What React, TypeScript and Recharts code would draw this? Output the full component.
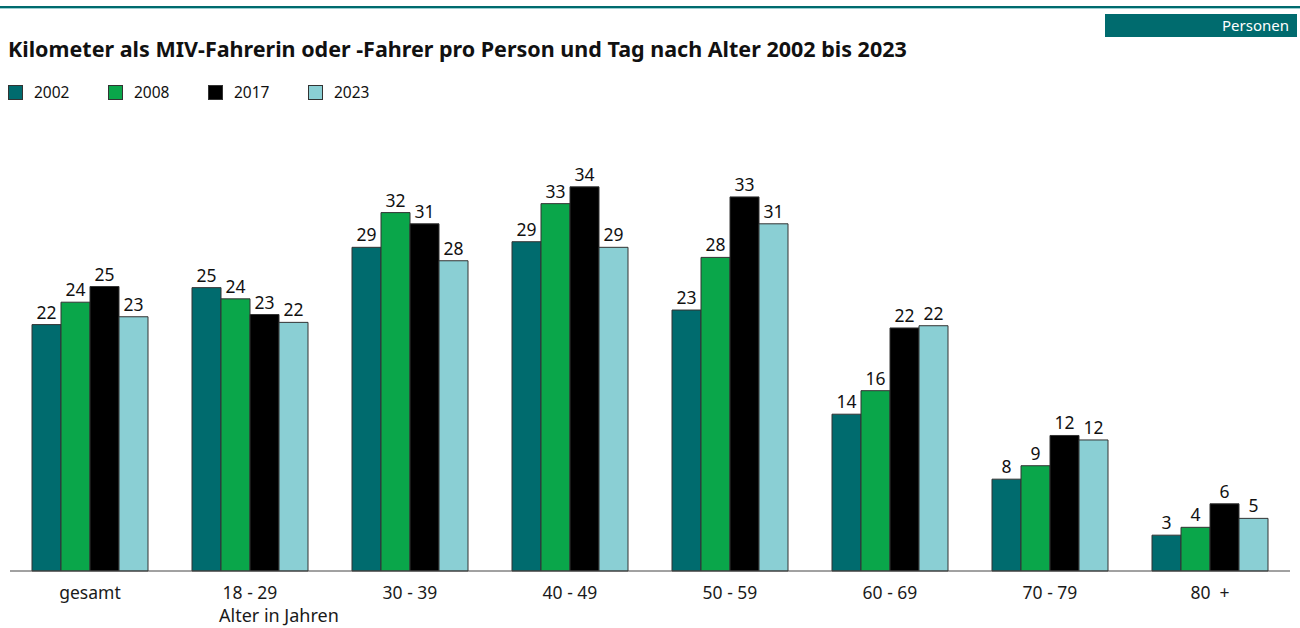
import { BarChart, Bar, XAxis, YAxis, LabelList } from "recharts";

// age groups along the x axis
const categories = ["gesamt", "18 - 29", "30 - 39", "40 - 49", "50 - 59", "60 - 69", "70 - 79", "80\u00a0\u00a0+"];

// km per person and day (labels show rounded values)
const values2002 = [22.0, 25.3, 28.9, 29.4, 23.3, 14.0, 8.2, 3.2];
const values2008 = [24.0, 24.3, 32.0, 32.8, 28.0, 16.1, 9.4, 3.9];
const values2017 = [25.4, 22.9, 31.0, 34.3, 33.4, 21.7, 12.1, 6.0];
const values2023 = [22.7, 22.2, 27.7, 28.9, 31.0, 21.9, 11.7, 4.7];

const series = [
  { key: "y2002", name: "2002", color: "#006b6e", values: values2002 },
  { key: "y2008", name: "2008", color: "#0aa64a", values: values2008 },
  { key: "y2017", name: "2017", color: "#000000", values: values2017 },
  { key: "y2023", name: "2023", color: "#8acfd4", values: values2023 },
];

const chartData = categories.map((name, i) => {
  const row: Record<string, string | number> = { name };
  series.forEach((s) => {
    row[s.key] = s.values[i];
  });
  return row;
});

const FONT = '"Noto Sans", "Open Sans", sans-serif';

function CategoryTick(props: any) {
  const { x, y, payload } = props;
  return (
    <text x={x} y={y + 20} textAnchor="middle" fontSize={17.5} fill="#1a1a1a" fontFamily={FONT}>
      {payload.value}
    </text>
  );
}

export default function App() {
  return (
    <div
      style={{
        position: "absolute",
        left: 0,
        top: 0,
        width: 1300,
        height: 628,
        background: "#fff",
        fontFamily: FONT,
        overflow: "hidden",
      }}
    >
      {/* ── header rule ── */}
      <div style={{ position: "absolute", left: 0, top: 6, width: 1300, height: 2, background: "#006b6e" }} />
      <div style={{ position: "absolute", left: 0, top: 8, width: 1300, height: 1, background: "#9ccfd1" }} />

      <div
        style={{
          position: "absolute",
          left: 1105,
          top: 14,
          width: 192,
          height: 23,
          background: "#006b6e",
          color: "#fff",
          fontSize: 15,
          lineHeight: "23px",
          textAlign: "right",
          paddingRight: 8,
          boxSizing: "border-box",
        }}
      >
        Personen
      </div>

      <div
        style={{
          position: "absolute",
          left: 8,
          top: 35,
          fontSize: 21.5,
          lineHeight: "28px",
          fontWeight: 700,
          color: "#111",
          whiteSpace: "nowrap",
        }}
      >
        Kilometer als MIV-Fahrerin oder -Fahrer pro Person und Tag nach Alter 2002 bis 2023
      </div>

      {/* ── legend ── */}
      {series.map((s, i) => (
        <div
          key={s.key}
          style={{ position: "absolute", left: 8 + i * 100, top: 81, display: "flex", alignItems: "center" }}
        >
          <span
            style={{
              display: "inline-block",
              width: 13,
              height: 13,
              background: s.color,
              border: "1px solid #333",
              marginRight: 11,
            }}
          />
          <span style={{ fontSize: 15.5, color: "#111" }}>{s.name}</span>
        </div>
      ))}

      <div
        style={{
          position: "absolute",
          left: 219,
          top: 605,
          fontSize: 18,
          lineHeight: "20px",
          color: "#1a1a1a",
          whiteSpace: "nowrap",
        }}
      >
        Alter in Jahren
      </div>

      <div style={{ position: "absolute", left: 0, top: 0 }}>
        <BarChart
          width={1300}
          height={628}
          data={chartData}
          margin={{ top: 123, right: 10, left: 10, bottom: 27 }}
          barCategoryGap={22}
          barGap={0}
        >
          <XAxis
            dataKey="name"
            axisLine={{ stroke: "#444", strokeWidth: 1 }}
            tickLine={false}
            tick={<CategoryTick />}
            interval={0}
          />
          <YAxis hide domain={[0, 40]} />
          {series.map((s) => (
            <Bar
              key={s.key}
              dataKey={s.key}
              name={s.name}
              fill={s.color}
              stroke="#333"
              strokeWidth={1}
              isAnimationActive={false}
            >
              <LabelList
                dataKey={s.key}
                position="top"
                offset={6}
                formatter={(v: any) => Math.round(Number(v))}
                style={{ fill: "#111", fontSize: 17.5, fontFamily: FONT }}
              />
            </Bar>
          ))}
        </BarChart>
      </div>
    </div>
  );
}
